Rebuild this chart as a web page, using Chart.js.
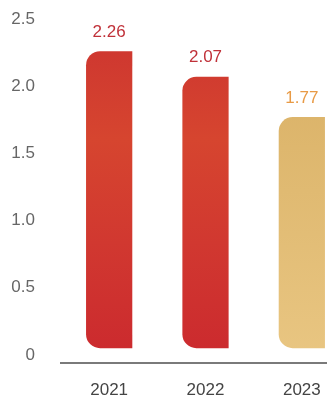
<!DOCTYPE html>
<html>
<head>
<meta charset="utf-8">
<script src="https://cdn.jsdelivr.net/npm/chart.js@4/dist/chart.umd.min.js"></script>
<style>
    html, body { margin: 0; padding: 0; background: #fff; overflow: hidden; }
    #chart { display: block; }
</style>
</head>
<body>
<canvas id="chart" width="352" height="402"></canvas>
<script>
// chart data
const years = ['2021', '2022', '2023']
const values = [2.26, 2.07, 1.77]
const y_ticks = [0, 0.5, 1.0, 1.5, 2.0, 2.5]
const label_colors = ['#c03139', '#c03139', '#e89a45']

const font_family = '"Liberation Sans", Arial, sans-serif'

// red / gold fills, roughly like the textured bars
function bar_fill(context) {
    const chart = context.chart
    const area = chart.chartArea
    if (!area) return '#cc2a2f'
    const ctx = chart.ctx
    const gradient = ctx.createLinearGradient(0, area.top, 0, area.bottom)
    if (context.dataIndex === 2) {
        gradient.addColorStop(0, '#d8ae62')
        gradient.addColorStop(0.5, '#e0ba72')
        gradient.addColorStop(1, '#e9c682')
    } else {
        gradient.addColorStop(0, '#cc3330')
        gradient.addColorStop(0.35, '#d6452f')
        gradient.addColorStop(0.65, '#d13830')
        gradient.addColorStop(1, '#cb292e')
    }
    return gradient
}

const value_labels = {
    id: 'value_labels',
    afterDatasetsDraw(chart) {
        const ctx = chart.ctx
        const meta = chart.getDatasetMeta(0)
        ctx.save()
        ctx.font = '17px ' + font_family
        ctx.textAlign = 'center'
        ctx.textBaseline = 'middle'
        meta.data.forEach((bar, i) => {
            ctx.fillStyle = label_colors[i]
            ctx.fillText(values[i].toFixed(2), bar.x, bar.y - 19)
        })
        ctx.restore()
    }
}

new Chart(document.getElementById('chart').getContext('2d'), {
    type: 'bar',
    data: {
        labels: years,
        datasets: [{
            data: values,
            base: 0.05,
            backgroundColor: bar_fill,
            borderRadius: { topLeft: 14, bottomLeft: 14, topRight: 0, bottomRight: 0 },
            borderSkipped: false,
            barPercentage: 0.48,
            categoryPercentage: 1
        }]
    },
    plugins: [value_labels],
    options: {
        responsive: false,
        animation: false,
        layout: { padding: { top: 19, left: 0, right: 2, bottom: 0 } },
        plugins: {
            legend: { display: false },
            tooltip: { enabled: false }
        },
        scales: {
            x: {
                afterFit(scale) {
                    scale.height = 39
                },
                grid: { display: false, drawTicks: false },
                border: { display: true, color: '#7a7a7a', width: 2 },
                ticks: {
                    color: '#444',
                    padding: 17,
                    font: { family: font_family, size: 17 }
                }
            },
            y: {
                min: -0.06,
                max: 2.5,
                afterBuildTicks(scale) {
                    scale.ticks = y_ticks.map(v => ({ value: v }))
                },
                afterFit(scale) {
                    // tick padding is horizontal here, keep it out of the top/bottom space
                    scale.width = 61
                    scale.paddingTop = 0
                    scale.paddingBottom = 0
                },
                grid: { display: false, drawTicks: false },
                border: { display: false },
                ticks: {
                    color: '#666',
                    padding: 26,
                    font: { family: font_family, size: 17 },
                    callback: v => (v === 0 ? '0' : v.toFixed(1))
                }
            }
        }
    }
})
</script>
</body>
</html>
